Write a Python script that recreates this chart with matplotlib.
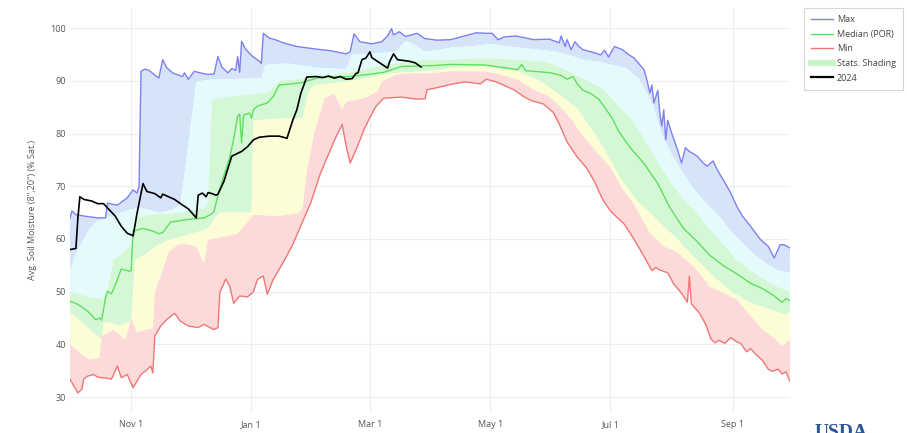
import datetime as dt
import numpy as np
import matplotlib
matplotlib.use("Agg")
import matplotlib.pyplot as plt
import matplotlib.dates as mdates
from matplotlib.lines import Line2D

START = dt.date(2023, 10, 1)   # day 0 of the water year

# ---- data (day of water year, value in % saturation) ----
max_day = [0, 1, 3, 8, 14, 18, 19, 24, 29, 32, 34, 35, 36, 38, 40, 45, 47, 49, 52, 57, 58, 60, 63, 66, 70,
           73, 75, 77, 80, 82, 84, 85, 86, 87, 89, 92, 96, 97, 98, 101, 104, 108, 115, 125, 132, 140, 142,
           144, 147, 153, 158, 161, 163, 164, 167, 170, 176, 180, 186, 193, 201, 206, 211, 214, 217, 220,
           226, 235, 243, 248, 249, 251, 252, 254, 256, 258, 260, 263, 266, 269, 271, 273, 276, 278, 280,
           283, 286, 288, 291, 292, 294, 295, 296, 298, 299, 300, 301, 302, 303, 305, 308, 310, 312, 314,
           318, 321, 323, 326, 328, 331, 335, 338, 341, 345, 350, 354, 357, 360, 362, 365]
max_val = [64.0, 65.3, 64.6, 64.3, 64.0, 64.0, 66.8, 66.4, 67.8, 69.3, 68.7, 70.0, 91.8, 92.2, 92.0, 90.5,
           94.0, 92.5, 91.5, 90.8, 91.5, 90.3, 91.8, 91.5, 91.2, 91.3, 94.6, 92.6, 91.5, 92.3, 92.0, 94.6,
           91.6, 97.5, 96.0, 94.8, 93.7, 93.3, 99.0, 98.1, 97.8, 97.2, 96.5, 96.0, 95.7, 95.1, 95.5, 98.9,
           97.4, 97.0, 97.4, 98.5, 99.9, 98.7, 99.3, 98.4, 99.0, 98.0, 97.7, 97.8, 98.6, 99.1, 99.0, 99.0,
           97.8, 98.3, 98.5, 97.8, 97.9, 97.2, 98.5, 96.5, 97.8, 95.9, 97.4, 96.5, 95.9, 95.6, 95.3, 94.9,
           95.8, 94.5, 96.5, 96.2, 95.9, 95.0, 94.3, 93.4, 92.1, 90.8, 87.7, 89.2, 85.8, 88.2, 83.9, 81.4,
           84.5, 78.8, 82.5, 80.1, 76.9, 74.4, 77.3, 76.6, 75.7, 74.4, 73.8, 74.8, 73.2, 71.3, 68.7, 66.2,
           64.3, 62.4, 59.9, 58.6, 56.4, 58.9, 58.9, 58.3]

p90_day = [0, 2, 4, 7, 10, 14, 18, 22, 30, 35, 45, 52, 56, 60, 64, 70, 80, 97, 99, 110, 125, 140, 143,
           155, 165, 170, 174, 180, 186, 193, 205, 213, 225, 235, 245, 252, 260, 268, 275, 282, 288, 292,
           296, 300, 305, 310, 316, 322, 328, 335, 341, 347, 353, 359, 365]
p90_val = [54.0, 56.0, 58.0, 60.0, 62.0, 63.5, 64.0, 64.5, 65.5, 66.0, 65.0, 65.5, 66.5, 78.0, 89.8, 90.2,
           90.3, 90.5, 93.0, 93.3, 92.5, 92.2, 95.0, 95.2, 95.5, 97.5, 97.0, 95.5, 95.8, 96.3, 96.6, 97.0,
           96.4, 96.0, 95.6, 95.0, 94.0, 93.6, 93.0, 92.4, 90.5, 88.0, 85.0, 80.0, 76.0, 73.0, 69.5, 67.0,
           64.8, 61.5, 59.2, 57.0, 55.3, 54.0, 53.6]

p70_day = [0, 5, 10, 17, 19, 22, 26, 31, 33, 40, 50, 60, 68, 70, 72, 85, 100, 104, 106, 116, 130, 140,
           150, 160, 170, 182, 193, 210, 227, 242, 250, 258, 265, 270, 275, 280, 285, 291, 298, 304, 311,
           318, 324, 331, 338, 345, 351, 358, 365]
p70_val = [50.0, 49.5, 49.0, 48.5, 50.5, 56.0, 57.0, 59.0, 64.0, 64.6, 64.8, 65.2, 65.8, 67.0, 86.5, 87.2,
           87.8, 89.0, 90.0, 90.3, 91.0, 91.5, 92.2, 93.0, 93.5, 94.0, 94.0, 94.3, 94.0, 93.5, 92.3, 90.8,
           89.5, 88.5, 86.5, 84.5, 82.5, 79.0, 74.5, 71.0, 67.5, 64.8, 62.0, 59.0, 56.0, 54.0, 52.5, 51.0,
           50.0]

med_day = [0, 4, 9, 13, 15, 16, 18, 19, 21, 23, 24, 26, 30, 31, 32, 37, 42, 45, 47, 51, 60, 68, 72, 73,
           75, 78, 81, 83, 85, 86, 87, 88, 91, 92, 93, 95, 100, 103, 106, 117, 127, 142, 151, 159, 168,
           185, 193, 210, 220, 227, 229, 231, 238, 244, 249, 252, 255, 257, 260, 264, 268, 271, 275, 278,
           284, 291, 298, 304, 311, 318, 324, 331, 338, 345, 351, 357, 361, 363, 365]
med_val = [48.2, 47.6, 46.3, 44.7, 45.0, 44.6, 48.8, 50.1, 49.6, 51.3, 52.3, 54.3, 53.9, 54.0, 61.5, 62.0,
           61.5, 61.0, 61.2, 63.2, 63.7, 64.0, 64.8, 65.2, 68.3, 72.0, 75.5, 79.0, 83.3, 83.7, 78.2, 83.5,
           83.9, 82.9, 84.5, 85.2, 85.8, 87.0, 89.2, 89.6, 90.7, 90.8, 91.2, 91.6, 92.7, 92.9, 93.1, 93.0,
           92.5, 92.1, 93.1, 91.9, 91.7, 91.5, 91.0, 90.3, 90.8, 89.5, 88.2, 87.6, 86.5, 85.0, 82.8, 80.5,
           77.3, 74.3, 70.5, 66.0, 62.0, 59.5, 57.0, 55.0, 53.4, 51.6, 50.6, 49.2, 48.0, 48.7, 48.3]

p30_day = [0, 5, 10, 14, 16, 17, 20, 25, 31, 33, 38, 43, 50, 60, 66, 70, 73, 76, 92, 93, 105, 118, 121,
           124, 140, 155, 162, 180, 193, 210, 227, 237, 247, 257, 265, 270, 274, 279, 284, 288, 294, 301,
           308, 314, 321, 328, 336, 345, 353, 362, 365]
p30_val = [46.0, 44.5, 42.8, 41.5, 41.0, 44.0, 44.2, 43.5, 44.5, 56.0, 57.0, 58.5, 59.8, 60.8, 61.5, 62.0,
           63.7, 65.0, 65.0, 82.5, 82.8, 83.0, 88.0, 89.2, 89.8, 90.8, 91.4, 91.8, 92.4, 92.7, 91.8, 90.2,
           87.7, 84.8, 80.5, 77.5, 75.0, 71.5, 69.0, 67.0, 65.0, 62.4, 59.9, 57.4, 54.8, 52.3, 49.8, 47.9,
           46.9, 45.7, 46.0]

p10_day = [0, 5, 10, 15, 16, 22, 28, 31, 34, 38, 42, 43, 46, 50, 55, 60, 64, 67, 68, 70, 75, 85, 91, 93,
           105, 116, 118, 120, 124, 129, 134, 138, 140, 146, 151, 156, 158, 165, 172, 182, 193, 210, 218,
           227, 235, 243, 250, 254, 260, 267, 274, 280, 286, 289, 294, 301, 308, 314, 319, 324, 331, 338,
           345, 351, 358, 361, 365]
p10_val = [40.0, 38.4, 37.1, 37.5, 41.6, 42.8, 40.9, 44.7, 42.2, 42.8, 43.0, 50.0, 53.0, 57.5, 59.0, 59.0,
           58.5, 56.0, 55.5, 59.8, 60.2, 61.0, 63.6, 64.6, 64.3, 64.9, 66.0, 72.7, 80.3, 86.7, 87.6, 84.5,
           86.0, 86.4, 87.0, 88.0, 89.8, 91.1, 91.4, 91.4, 91.8, 91.8, 91.2, 90.2, 88.3, 87.0, 84.5, 82.8,
           79.5, 76.5, 73.5, 69.5, 66.5, 64.5, 61.1, 58.6, 57.4, 55.5, 53.6, 51.0, 49.8, 48.5, 45.4, 42.8,
           40.9, 39.7, 40.9]

min_day = [0, 2, 4, 6, 7, 9, 12, 14, 16, 19, 21, 24, 26, 29, 32, 36, 39, 41, 42, 43, 46, 49, 53, 56, 60,
           65, 68, 73, 75, 76, 79, 81, 83, 86, 90, 93, 95, 98, 100, 103, 108, 113, 117, 122, 127, 132, 135,
           138, 140, 142, 145, 149, 152, 155, 159, 168, 176, 180, 181, 185, 193, 200, 208, 211, 216, 225,
           230, 234, 240, 245, 248, 252, 257, 262, 266, 270, 274, 277, 281, 285, 289, 292, 295, 297, 299,
           303, 306, 310, 313, 314, 315, 319, 322, 325, 327, 329, 332, 335, 338, 340, 343, 345, 348, 351,
           354, 356, 359, 361, 363, 365]
min_val = [33.4, 32.1, 30.8, 31.5, 33.5, 34.0, 34.3, 33.8, 33.7, 33.6, 33.4, 35.9, 33.7, 34.3, 31.8, 34.3,
           35.2, 35.9, 34.6, 41.6, 43.5, 44.7, 45.9, 44.4, 43.5, 43.2, 43.8, 42.8, 43.2, 49.9, 52.4, 51.0,
           47.8, 49.2, 49.0, 50.0, 52.3, 53.0, 49.5, 52.3, 55.5, 59.0, 62.5, 66.8, 72.5, 76.9, 79.5, 81.7,
           77.6, 74.4, 76.9, 80.7, 83.0, 85.1, 86.7, 86.9, 86.5, 86.6, 88.3, 88.6, 89.3, 89.8, 89.4, 90.3,
           89.8, 88.3, 87.0, 86.2, 85.6, 84.0, 81.8, 78.4, 75.6, 73.4, 70.8, 67.5, 65.3, 64.2, 62.8, 60.5,
           58.0, 56.0, 54.0, 54.6, 54.1, 53.6, 51.5, 49.7, 48.0, 52.9, 47.7, 46.0, 44.0, 41.0, 40.3, 40.8,
           40.2, 41.3, 40.5, 40.2, 38.6, 39.2, 38.0, 37.0, 35.3, 34.9, 35.3, 34.4, 34.8, 33.0]

wy2024_day = [0, 3, 4, 5, 7, 11, 14, 17, 19, 23, 26, 29, 32, 34, 37, 39, 43, 46, 47, 50, 53, 56, 60, 64,
              65, 67, 68, 69, 70, 72, 74, 75, 78, 82, 87, 90, 93, 96, 101, 106, 110, 113, 115, 117, 120,
              125, 128, 131, 134, 137, 140, 143, 145, 146, 148, 150, 152, 153, 157, 161, 162, 164, 166,
              172, 175, 178]
wy2024_val = [58.0, 58.2, 64.0, 68.0, 67.5, 67.2, 66.7, 66.7, 65.9, 64.3, 62.4, 61.1, 60.6, 64.9, 70.5,
              69.0, 68.6, 67.8, 68.5, 68.0, 67.5, 66.7, 65.7, 64.0, 68.3, 68.7, 68.4, 68.0, 68.8, 68.6,
              68.3, 68.5, 70.9, 75.7, 76.6, 77.5, 78.8, 79.3, 79.5, 79.5, 79.1, 82.6, 84.5, 87.6, 90.7,
              90.8, 90.6, 90.9, 90.5, 90.8, 90.3, 90.4, 91.4, 91.5, 94.0, 94.3, 95.5, 94.4, 93.4, 92.4,
              93.6, 95.1, 94.0, 93.7, 93.4, 92.6]

tick_dates = [dt.date(2023, 11, 1), dt.date(2024, 1, 1), dt.date(2024, 3, 1),
              dt.date(2024, 5, 1), dt.date(2024, 7, 1), dt.date(2024, 9, 1)]
tick_labels = ["Nov 1", "Jan 1", "Mar 1", "May 1", "Jul 1", "Sep 1"]
y_ticks = [30, 40, 50, 60, 70, 80, 90, 100]

# ---- styling ----
FONT = ["Open Sans", "DejaVu Sans"]
plt.rcParams["font.family"] = FONT
TXT = "#555555"
C_BLUE, C_CYAN, C_GREEN, C_YELLOW, C_RED = "#d6e4fa", "#e5fafd", "#d4f8d5", "#fcfcd5", "#fcdada"
L_MAX, L_MED, L_MIN = "#8080f0", "#5fdf5f", "#f07676"


def xnum(days):
    return mdates.date2num([START + dt.timedelta(days=int(d)) for d in days])


fig = plt.figure(figsize=(9.07, 4.33), dpi=100)
ax = fig.add_axes([70 / 907, 1 - 413 / 433, 720 / 907, 405 / 433])


def band(ud, uv, ld, lv, color):
    xs = np.concatenate([xnum(ud), xnum(ld)[::-1]])
    ys = np.concatenate([np.asarray(uv, float), np.asarray(lv, float)[::-1]])
    ax.fill(xs, ys, color=color, lw=0, zorder=1)


band(max_day, max_val, p90_day, p90_val, C_BLUE)
band(p90_day, p90_val, p70_day, p70_val, C_CYAN)
band(p70_day, p70_val, p30_day, p30_val, C_GREEN)
band(p30_day, p30_val, p10_day, p10_val, C_YELLOW)
band(p10_day, p10_val, min_day, min_val, C_RED)

ax.plot(xnum(max_day), max_val, color=L_MAX, lw=1.0, zorder=3)
ax.plot(xnum(med_day), med_val, color=L_MED, lw=1.0, zorder=3)
ax.plot(xnum(min_day), min_val, color=L_MIN, lw=1.0, zorder=3)
ax.plot(xnum(wy2024_day), wy2024_val, color="black", lw=1.2, zorder=4)

ax.set_xlim(xnum([0])[0], xnum([365])[0])
ax.set_ylim(27.0, 103.8)
ax.set_xticks(mdates.date2num(tick_dates))
ax.set_xticklabels(tick_labels)
ax.set_yticks(y_ticks)
ax.set_yticklabels([str(v) for v in y_ticks])
ax.tick_params(axis="both", length=0, labelsize=6.5, labelcolor=TXT)
ax.tick_params(axis="y", pad=3)
ax.tick_params(axis="x", pad=5)
ax.grid(True, color="#ebeef3", lw=0.8)
ax.set_axisbelow(True)
for s in ax.spines.values():
    s.set_visible(False)

fig.text(33 / 907, 1 - 210 / 433, 'Avg. Soil Moisture (8",20") (% Sat.)', rotation=90,
         ha="center", va="center", fontsize=6.5, color=TXT)

handles = [Line2D([], [], color=L_MAX, lw=1.0),
           Line2D([], [], color=L_MED, lw=1.0),
           Line2D([], [], color=L_MIN, lw=1.0),
           Line2D([], [], color="#c8f5c8", lw=4.5),
           Line2D([], [], color="black", lw=1.6)]
labels = ["Max", "Median (POR)", "Min", "Stats. Shading", "2024"]
leg = fig.legend(handles, labels, loc="upper left", bbox_to_anchor=(804 / 907, 1 - 8 / 433),
                 bbox_transform=fig.transFigure, fontsize=6.5, frameon=True, fancybox=False,
                 edgecolor="#cccccc", handlelength=2.4, handletextpad=0.45, labelspacing=0.62,
                 borderpad=0.8, borderaxespad=0)
leg.get_frame().set_linewidth(0.8)
for t in leg.get_texts():
    t.set_color("#444444")

# logo text, partly below the bottom edge as in the reference
fig.text(815 / 907, 1 - 424 / 433, "USDA", fontsize=14, family="Liberation Serif",
         weight="bold", color="#2b5797", ha="left", va="top")

fig.savefig("out.png", dpi=100)
